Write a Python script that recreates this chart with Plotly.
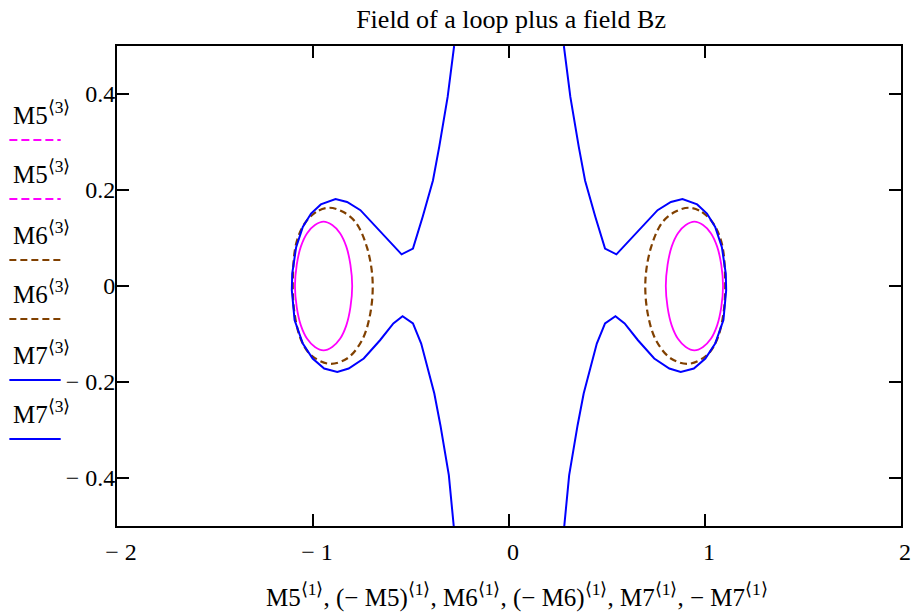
import plotly.graph_objects as go

# ---- data (left-hand contours; right ones are their negatives in x) ----
m5_x = [-0.946, -0.990, -1.030, -1.062, -1.083, -1.092, -1.083, -1.062, -1.030, -0.990, -0.946,
        -0.902, -0.862, -0.830, -0.809, -0.800, -0.809, -0.830, -0.862, -0.902, -0.946]
m5_y = [0.134, 0.127, 0.110, 0.082, 0.044, 0.000, -0.044, -0.082, -0.110, -0.127, -0.134,
        -0.127, -0.110, -0.082, -0.044, 0.000, 0.044, 0.082, 0.110, 0.127, 0.134]

m6_x = [-0.918, -0.985, -1.043, -1.086, -1.103, -1.094, -1.060, -1.010, -0.918, -0.826, -0.750, -0.708, -0.696, -0.725, -0.783, -0.850, -0.918]
m6_y = [0.163, 0.154, 0.130, 0.088, 0.012, -0.058, -0.113, -0.144, -0.162, -0.151, -0.113, -0.058, 0.012, 0.081, 0.133, 0.155, 0.163]

m7_x = [-0.280, -0.313, -0.356, -0.388, -0.440, -0.490, -0.548, -0.608, -0.691, -0.758, -0.826, -0.885,
        -0.960, -1.010, -1.052, -1.086, -1.106, -1.108, -1.094, -1.052, -1.002, -0.943, -0.876, -0.818,
        -0.741, -0.658, -0.590, -0.543, -0.490, -0.448, -0.381, -0.350, -0.307, -0.282]
m7_y = [0.500, 0.394, 0.290, 0.220, 0.145, 0.078, 0.066, 0.092, 0.130, 0.158, 0.175, 0.181,
        0.170, 0.151, 0.123, 0.081, 0.026, -0.009, -0.071, -0.120, -0.151, -0.172, -0.179, -0.172,
        -0.151, -0.113, -0.078, -0.063, -0.078, -0.120, -0.224, -0.290, -0.394, -0.500]

x_ticks = [-2, -1, 0, 1, 2]
x_tick_text = ["\u2212 2", "\u2212 1", "0", "1", "2"]
y_ticks = [-0.4, -0.2, 0, 0.2, 0.4]
y_tick_text = ["\u2212 0.4", "\u2212 0.2", "0", "0.2", "0.4"]

legend_names = ["M5", "M5", "M6", "M6", "M7", "M7"]

MAGENTA = "#FF00FF"
BROWN = "#804000"
BLUE = "#0000FF"
FONT = "Liberation Serif, Times New Roman, serif"

fig = go.Figure()

def neg(v):
    return [-a for a in v]

fig.add_trace(go.Scatter(x=m5_x, y=m5_y, mode="lines", line=dict(color=MAGENTA, width=1.8, shape="spline")))
fig.add_trace(go.Scatter(x=neg(m5_x), y=m5_y, mode="lines", line=dict(color=MAGENTA, width=1.8, shape="spline")))
fig.add_trace(go.Scatter(x=m6_x, y=m6_y, mode="lines", line=dict(color=BROWN, width=2.2, dash="7px,4px", shape="spline")))
fig.add_trace(go.Scatter(x=neg(m6_x), y=m6_y, mode="lines", line=dict(color=BROWN, width=2.2, dash="7px,4px", shape="spline")))
fig.add_trace(go.Scatter(x=m7_x, y=m7_y, mode="lines", line=dict(color=BLUE, width=2)))
fig.add_trace(go.Scatter(x=neg(m7_x), y=m7_y, mode="lines", line=dict(color=BLUE, width=2)))

axis_common = dict(
    showline=True, linecolor="black", linewidth=2, mirror="ticks",
    ticks="inside", ticklen=12, tickwidth=2, tickcolor="black",
    showgrid=False, zeroline=False,
    tickfont=dict(family=FONT, size=24, color="black"),
)
fig.update_xaxes(range=[-2, 2], tickmode="array", tickvals=x_ticks, ticktext=x_tick_text,
                 ticklabelstandoff=3, ticklabelshift=4, **axis_common)
fig.update_yaxes(range=[-0.5, 0.5], tickmode="array", tickvals=y_ticks, ticktext=y_tick_text,
                 ticklabelstandoff=-5, **axis_common)

# custom legend at the left
leg_colors = [MAGENTA, MAGENTA, BROWN, BROWN, BLUE, BLUE]
leg_dash = ["8px,4px", "8px,4px", "7px,4px", "7px,4px", "solid", "solid"]
line_py = [140, 199, 260, 319, 380, 439]
annotations = []
shapes = []
for name, col, dsh, py in zip(legend_names, leg_colors, leg_dash, line_py):
    yp = (526 - py) / 480
    shapes.append(dict(type="line", xref="paper", yref="paper", x0=-0.1373, x1=-0.0718, y0=yp, y1=yp,
                       line=dict(color=col, width=2, dash=dsh)))
    annotations.append(dict(text=name + "<sup>\u27e8" + "3" + "\u27e9</sup>", xref="paper", yref="paper",
                            x=-0.135, y=(526 - (py - 9)) / 480, xanchor="left", yanchor="bottom",
                            showarrow=False, font=dict(family=FONT, size=25, color="black")))

xlab = ", ".join(["M5<sup>\u27e81\u27e9</sup>", "(\u2212 M5)<sup>\u27e81\u27e9</sup>",
                  "M6<sup>\u27e81\u27e9</sup>", "(\u2212 M6)<sup>\u27e81\u27e9</sup>",
                  "M7<sup>\u27e81\u27e9</sup>", "\u2212 M7<sup>\u27e81\u27e9</sup>"])
annotations.append(dict(text=xlab, xref="paper", yref="paper", x=0.510, y=(526 - 614) / 480,
                        xanchor="center", yanchor="bottom", showarrow=False,
                        font=dict(family=FONT, size=25, color="black")))

fig.update_layout(
    width=920, height=612,
    margin=dict(l=117, r=9, t=46, b=86),
    paper_bgcolor="white", plot_bgcolor="white",
    showlegend=False,
    title=dict(text="Field of a loop plus a field Bz", x=0.5555, xanchor="center",
               y=1 - 19 / 612, yanchor="middle", font=dict(family=FONT, size=26, color="black")),
    annotations=annotations, shapes=shapes,
)

fig.write_html("out.html", config={"displayModeBar": False},
               post_script="document.body.style.margin='0';document.body.style.overflow='hidden';")
